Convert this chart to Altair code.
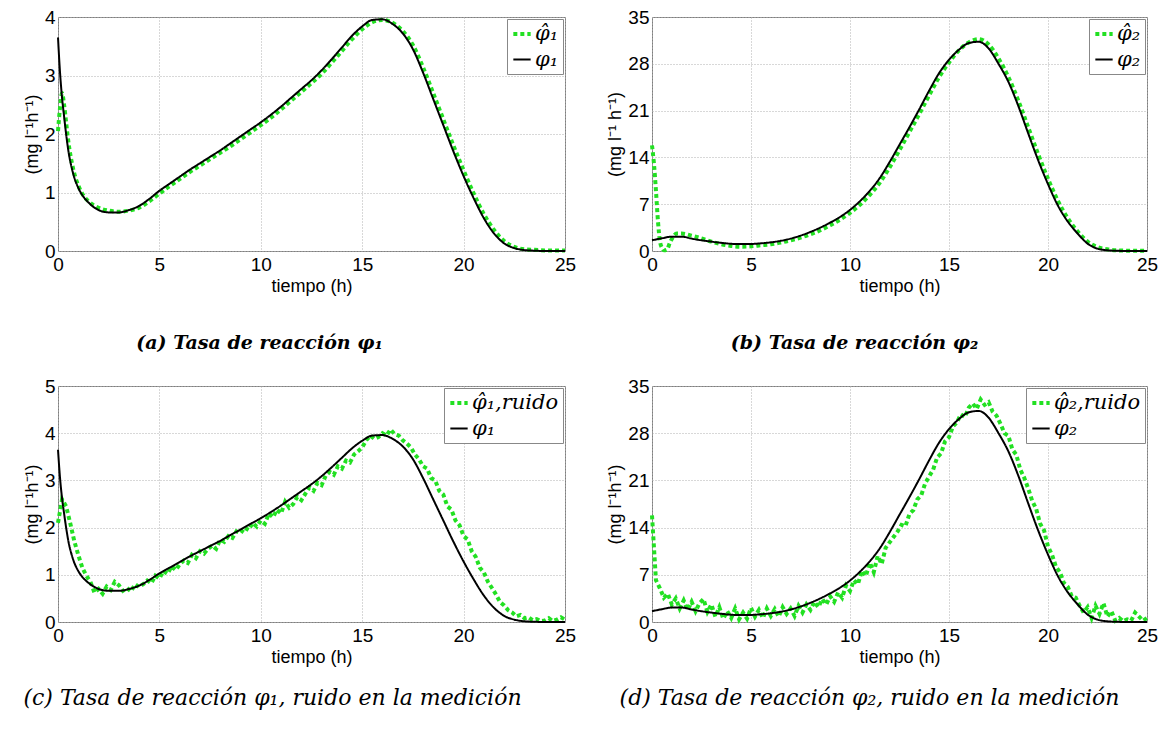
import altair as alt
import pandas as pd

GREEN = "#22e022"
BLACK = "#000000"

# ---------------- data ----------------
X_TICKS = [0, 5, 10, 15, 20, 25]
Y_TICKS_A = [0, 1, 2, 3, 4]
Y_TICKS_B = [0, 7, 14, 21, 28, 35]
Y_TICKS_C = [0, 1, 2, 3, 4, 5]
Y_TICKS_D = [0, 7, 14, 21, 28, 35]

# phi_1 (true rate)
T_PHI1 = [0, 0.1, 0.2, 0.3, 0.4, 0.5, 0.75, 1.0, 1.25, 1.5,
          2.0, 2.5, 3.0, 3.5, 4.0, 4.5, 5.0, 5.5, 6.0, 6.5,
          7.0, 7.5, 8.0, 8.5, 9.0, 9.5, 10.0, 10.5, 11.0, 11.5,
          12.0, 12.5, 13.0, 13.5, 14.0, 14.5, 15.0, 15.5, 16.0, 16.5,
          17.0, 17.5, 18.0, 18.5, 19.0, 19.5, 20.0, 20.5, 21.0, 21.5,
          22.0, 22.5, 23.0, 23.5, 24.0, 25.0]
PHI1 = [3.65, 3.05, 2.62, 2.3, 2.0, 1.74, 1.32, 1.08, 0.93, 0.83,
        0.70, 0.66, 0.66, 0.70, 0.77, 0.89, 1.03, 1.15, 1.27, 1.39,
        1.50, 1.61, 1.72, 1.84, 1.96, 2.08, 2.20, 2.33, 2.47, 2.62,
        2.77, 2.92, 3.09, 3.28, 3.48, 3.68, 3.84, 3.95, 3.96, 3.88,
        3.72, 3.45, 3.05, 2.60, 2.15, 1.70, 1.28, 0.90, 0.56, 0.30,
        0.13, 0.05, 0.015, 0.005, 0.0, 0.0]

# phi_1 estimate (panel a)
T_PHI1_EST = [0, 0.1, 0.2, 0.3, 0.4, 0.5, 0.75, 1.0, 1.25, 1.5,
              2.0, 2.5, 3.0, 3.5, 4.0, 4.5, 5.0, 5.5, 6.0, 6.5,
              7.0, 7.5, 8.0, 8.5, 9.0, 9.5, 10.0, 10.5, 11.0, 11.5,
              12.0, 12.5, 13.0, 13.5, 14.0, 14.5, 15.0, 15.5, 16.0, 16.5,
              17.0, 17.5, 18.0, 18.5, 19.0, 19.5, 20.0, 20.5, 21.0, 21.5,
              22.0, 22.5, 23.0, 23.5, 24.0, 25.0]
PHI1_EST = [2.05, 2.45, 2.7, 2.5, 2.2, 1.9, 1.4, 1.12, 0.95, 0.85,
            0.74, 0.69, 0.67, 0.69, 0.74, 0.85, 0.98, 1.11, 1.23, 1.35,
            1.46, 1.57, 1.68, 1.79, 1.91, 2.03, 2.15, 2.28, 2.42, 2.57,
            2.72, 2.87, 3.03, 3.22, 3.42, 3.62, 3.79, 3.91, 3.95, 3.90,
            3.76, 3.52, 3.14, 2.70, 2.25, 1.80, 1.38, 0.98, 0.63, 0.36,
            0.17, 0.07, 0.03, 0.02, 0.01, 0.01]

# phi_2 (true rate)
T_PHI2 = [0, 0.5, 1.0, 1.5, 2.0, 2.5, 3.0, 3.5, 4.0, 4.5,
          5.0, 5.5, 6.0, 6.5, 7.0, 7.5, 8.0, 8.5, 9.0, 9.5,
          10.0, 10.5, 11.0, 11.5, 12.0, 12.5, 13.0, 13.5, 14.0, 14.5,
          15.0, 15.5, 16.0, 16.5, 17.0, 17.5, 18.0, 18.5, 19.0, 19.5,
          20.0, 20.5, 21.0, 21.5, 22.0, 22.5, 23.0, 23.5, 24.0, 25.0]
PHI2 = [1.6, 1.9, 2.15, 2.15, 1.85, 1.6, 1.4, 1.22, 1.08, 1.03,
        1.05, 1.15, 1.3, 1.52, 1.85, 2.3, 2.85, 3.5, 4.25, 5.1,
        6.15, 7.45, 9.0, 10.9, 13.3, 15.9, 18.5, 21.2, 24.0, 26.6,
        28.6, 30.1, 31.1, 31.3, 30.3, 28.0, 25.3, 21.7, 17.6, 13.6,
        10.0, 6.8, 4.4, 2.6, 1.1, 0.35, 0.1, 0.03, 0.0, 0.0]

# phi_2 estimate (panel b)
T_PHI2_EST = [0, 0.1, 0.2, 0.3, 0.4, 0.5, 0.6, 0.75, 0.9, 1.0, 1.25, 1.5,
              2.0, 2.5, 3.0, 3.5, 4.0, 4.5, 5.0, 5.5, 6.0, 6.5,
              7.0, 7.5, 8.0, 8.5, 9.0, 9.5, 10.0, 10.5, 11.0, 11.5,
              12.0, 12.5, 13.0, 13.5, 14.0, 14.5, 15.0, 15.5, 16.0, 16.5,
              17.0, 17.5, 18.0, 18.5, 19.0, 19.5, 20.0, 20.5, 21.0, 21.5,
              22.0, 22.5, 23.0, 23.5, 24.0, 25.0]
PHI2_EST = [15.8, 13.0, 9.0, 4.5, 1.5, 0.5, 0.1, 0.2, 1.2, 1.8, 2.6, 2.6,
            2.3, 1.9, 1.4, 1.0, 0.75, 0.65, 0.7, 0.85, 1.0, 1.25,
            1.6, 2.0, 2.5, 3.1, 3.85, 4.7, 5.7, 6.9, 8.4, 10.2,
            12.5, 15.1, 17.8, 20.5, 23.3, 26.0, 28.2, 30.0, 31.2, 31.7,
            30.9, 28.8, 26.0, 22.5, 18.5, 14.5, 10.8, 7.5, 4.9, 2.9,
            1.4, 0.6, 0.25, 0.1, 0.05, 0.05]

# noisy estimates (panels c and d), sampled every 0.2 h from 0 to 25 h
PHI1_NOISE = [2.1, 2.6, 2.45, 2.1, 1.72, 1.42, 1.15, 0.98, 0.85, 0.62,
              0.7, 0.6, 0.75, 0.68, 0.85, 0.78, 0.66, 0.72, 0.65, 0.8,
              0.74, 0.8, 0.88, 0.82, 0.98, 0.92, 1.08, 1.02, 1.18, 1.1,
              1.22, 1.3, 1.25, 1.42, 1.35, 1.5, 1.45, 1.55, 1.62, 1.55,
              1.75, 1.7, 1.82, 1.78, 1.92, 1.88, 2.0, 1.95, 2.1, 2.02,
              2.15, 2.08, 2.3, 2.22, 2.38, 2.3, 2.55, 2.42, 2.5, 2.65,
              2.58, 2.72, 2.85, 2.78, 2.95, 2.9, 3.1, 3.18, 3.12, 3.3,
              3.25, 3.42, 3.38, 3.55, 3.62, 3.7, 3.85, 3.95, 3.88, 3.92,
              4.0, 3.95, 4.08, 3.98, 3.95, 3.85, 3.78, 3.7, 3.55, 3.45,
              3.3, 3.25, 3.05, 3.0, 2.78, 2.7, 2.45, 2.38, 2.15, 2.05,
              1.82, 1.75, 1.5, 1.38, 1.15, 1.05, 0.85, 0.72, 0.58, 0.42,
              0.35, 0.25, 0.2, 0.12, 0.15, 0.08, 0.1, 0.04, 0.06, 0.02,
              0.03, 0.08, 0.02, 0.05, 0.1, 0.05]
PHI2_NOISE = [15.8, 6.2, 5.0, 3.6, 4.2, 2.6, 3.5, 2.0, 3.2, 1.8,
              3.0, 1.6, 2.8, 3.4, 1.5, 2.6, 0.8, 2.2, 0.5, 1.6,
              0.6, 2.0, 0.4, 1.4, 0.5, 2.1, 0.8, 1.8, 0.6, 2.0,
              0.9, 1.9, 0.8, 2.2, 1.2, 2.0, 0.9, 2.4, 1.4, 2.6,
              1.8, 3.0, 2.2, 3.4, 2.6, 3.8, 3.0, 4.4, 3.6, 5.4,
              4.6, 6.2, 5.6, 7.6, 6.8, 8.8, 7.4, 9.8, 8.6, 11.0,
              11.8, 12.6, 13.4, 14.4, 14.2, 16.0, 16.6, 18.2, 18.8, 20.6,
              21.6, 22.6, 24.4, 25.0, 26.8, 27.4, 29.0, 29.6, 30.8, 30.4,
              31.8, 32.4, 31.6, 33.0, 32.2, 32.6, 31.2, 30.6, 29.4, 28.0,
              27.6, 25.6, 24.8, 22.6, 21.4, 19.8, 18.0, 16.8, 14.6, 13.6,
              11.2, 10.0, 8.2, 7.4, 5.8, 5.2, 3.8, 3.6, 2.4, 1.4,
              2.2, 0.6, 2.4, 1.2, 2.8, 0.8, 1.6, 0.2, 0.6, 0.1,
              0.4, 0.2, 1.4, 0.8, 0.2, 0.6]
T_NOISE_1 = [round(0.2 * i, 1) for i in range(len(PHI1_NOISE))]
T_NOISE_2 = [round(0.2 * i, 1) for i in range(len(PHI2_NOISE))]

LBL_EST1 = "φ̂₁"
LBL_EST2 = "φ̂₂"
LBL_NOISE1 = "φ̂₁,ruido"
LBL_NOISE2 = "φ̂₂,ruido"
LBL_TRUE1 = "φ₁"
LBL_TRUE2 = "φ₂"


def make_df(est_t, est_v, est_name, tr_t, tr_v, tr_name):
    d1 = pd.DataFrame({"t": est_t, "v": est_v, "serie": est_name})
    d2 = pd.DataFrame({"t": tr_t, "v": tr_v, "serie": tr_name})
    return pd.concat([d1, d2], ignore_index=True)


def panel(df, est_name, tr_name, est_interp, yticks, ytitle, w, h, caption):
    dom = [est_name, tr_name]
    leg = alt.Legend(title=None, orient="top-right", offset=2)
    enc = dict(
        x=alt.X("t:Q", scale=alt.Scale(domain=[0, 25], nice=False, zero=False),
                axis=alt.Axis(values=X_TICKS, title="tiempo (h)", labelFlush=False,
                              labelPadding=4, titlePadding=3, format="d")),
        y=alt.Y("v:Q", scale=alt.Scale(domain=[yticks[0], yticks[-1]], nice=False),
                axis=alt.Axis(values=yticks, title=ytitle, labelPadding=3,
                              titlePadding=3, format="d")),
        color=alt.Color("serie:N", scale=alt.Scale(domain=dom, range=[GREEN, BLACK]), legend=leg),
        strokeDash=alt.StrokeDash("serie:N", scale=alt.Scale(domain=dom, range=[[4, 3], [1, 0]]), legend=leg),
        strokeWidth=alt.StrokeWidth("serie:N", scale=alt.Scale(domain=dom, range=[4, 2]), legend=leg),
    )
    base = alt.Chart(df)
    est = base.transform_filter(alt.datum.serie == est_name).mark_line(
        interpolate=est_interp, strokeCap="butt").encode(**enc)
    tru = base.transform_filter(alt.datum.serie == tr_name).mark_line(
        interpolate="monotone").encode(**enc)
    return alt.layer(est, tru).properties(width=w, height=h, title=caption)


def cap_top(text, dx):
    return alt.TitleParams(text=text, orient="bottom", anchor="middle", dx=dx,
                           offset=39, font="DejaVu Serif", fontSize=19,
                           fontWeight="bold", fontStyle="italic", color="black")


def cap_bottom(text, dx):
    return alt.TitleParams(text=text, orient="bottom", anchor="middle", dx=dx,
                           offset=22, font="DejaVu Serif", fontSize=22,
                           fontWeight="normal", fontStyle="italic", color="black")


YT1 = "(mg l⁻¹h⁻¹)"
YT2 = "(mg l⁻¹ h⁻¹)"

pa = panel(make_df(T_PHI1_EST, PHI1_EST, LBL_EST1, T_PHI1, PHI1, LBL_TRUE1),
           LBL_EST1, LBL_TRUE1, "monotone", Y_TICKS_A, YT1, 507, 234,
           cap_top("(a)  Tasa de reacción φ₁", -52))
pb = panel(make_df(T_PHI2_EST, PHI2_EST, LBL_EST2, T_PHI2, PHI2, LBL_TRUE2),
           LBL_EST2, LBL_TRUE2, "monotone", Y_TICKS_B, YT2, 495, 234,
           cap_top("(b)  Tasa de reacción φ₂", -45))
pc = panel(make_df(T_NOISE_1, PHI1_NOISE, LBL_NOISE1, T_PHI1, PHI1, LBL_TRUE1),
           LBL_NOISE1, LBL_TRUE1, "linear", Y_TICKS_C, YT1, 507, 236,
           cap_bottom("(c) Tasa de reacción φ₁, ruido en la medición", -39))
pd_ = panel(make_df(T_NOISE_2, PHI2_NOISE, LBL_NOISE2, T_PHI2, PHI2, LBL_TRUE2),
            LBL_NOISE2, LBL_TRUE2, "linear", Y_TICKS_D, YT1, 495, 236,
            cap_bottom("(d) Tasa de reacción φ₂, ruido en la medición", -30))

RES = dict(x="independent", y="independent", color="independent",
           strokeDash="independent", strokeWidth="independent")

row1 = alt.hconcat(pa, pb, spacing=29).resolve_scale(**RES)
row2 = alt.hconcat(pc, pd_, spacing=29).resolve_scale(**RES)

chart = (
    alt.vconcat(row1, row2, spacing=22)
    .resolve_scale(**RES)
    .properties(padding={"left": 14, "top": -1, "right": 0, "bottom": 0},
                background="white")
    .configure_axis(domain=False, ticks=False, grid=True, gridDash=[1, 2],
                    gridColor="#b0b0b0", gridWidth=1,
                    labelFont="Liberation Sans", labelFontSize=19, labelColor="black",
                    titleFont="Liberation Sans", titleFontSize=18,
                    titleFontWeight="normal", titleColor="black")
    .configure_view(stroke="#7f7f7f", strokeWidth=1)
    .configure_legend(symbolType="stroke", symbolSize=300,
                      labelFont="DejaVu Serif", labelFontStyle="italic",
                      labelFontSize=21, labelColor="black", labelOffset=2,
                      padding=4, rowPadding=4, fillColor="white",
                      strokeColor="#888888", cornerRadius=0)
)

chart.save("out.html", embed_options={"renderer": "svg", "actions": False})
